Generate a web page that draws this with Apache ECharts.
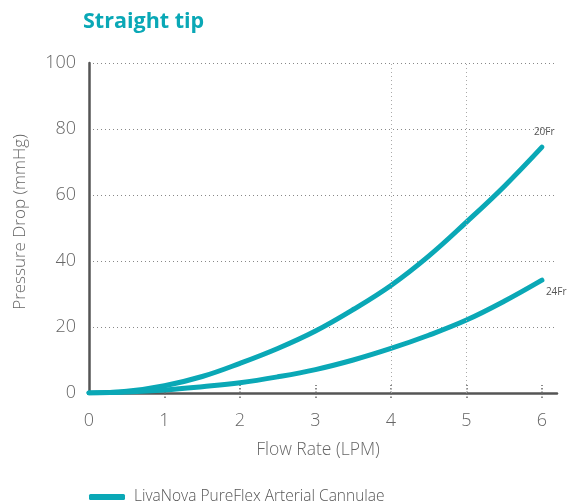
<!DOCTYPE html>
<html>
<head>
<meta charset="utf-8">
<script src="https://cdn.jsdelivr.net/npm/echarts@6/dist/echarts.min.js"></script>
<style>html,body{margin:0;padding:0;background:#fff;}#c{width:567px;height:502px;}</style>
</head>
<body>
<div id="c"></div>
<script>
var flowRates = [0, 0.5, 1, 1.5, 2, 2.5, 3, 3.5, 4, 4.5, 5, 5.5, 6];
var fr20Values = [0, 0.5, 2.2, 5, 9, 13.5, 18.8, 25.3, 32.6, 41.5, 51.8, 62.6, 74.5];
var fr24Values = [0, 0.3, 0.9, 1.9, 3.1, 4.9, 7.1, 10, 13.5, 17.5, 22.1, 27.8, 34.2];
var xTickLabels = [0, 1, 2, 3, 4, 5, 6];
var xTickMarks = [1, 2, 3, 4, 5, 6];
var xGridAt = [4, 5];
var seriesName = 'LivaNova PureFlex Arterial Cannulae';

function pairs(ys) { return flowRates.map(function (x, i) { return [x, ys[i]]; }); }

var teal = '#0aa8b6';
var font = '"Open Sans", "Noto Sans", sans-serif';
var chart = echarts.init(document.getElementById('c'));
chart.setOption({
  animation: false,
  title: {
    text: 'Straight tip', left: 78, top: 6,
    textStyle: { color: teal, fontSize: 21.5, fontWeight: 'bold', fontFamily: '"Open Sans", sans-serif' }
  },
  grid: { left: 89, right: 10, top: 63, bottom: 109 },
  legend: {
    left: 84, top: 484, icon: 'roundRect', itemWidth: 36, itemHeight: 6, itemGap: 14,
    data: [seriesName],
    textStyle: { color: '#555', fontSize: 15.5, fontWeight: 300, fontFamily: font, padding: [0, 0, 0, 4] }
  },
  xAxis: [{
    type: 'value', min: 0, max: 6.2, interval: 1,
    axisLine: { lineStyle: { color: '#555', width: 2.5 } },
    axisTick: { show: true, customValues: xTickMarks, length: 7, lineStyle: { color: '#666', type: [1.5, 2], width: 1.5 } },
    axisLabel: { customValues: xTickLabels, color: '#666', fontSize: 18, fontWeight: 300, margin: 19, fontFamily: font },
    splitLine: { show: false },
    name: 'Flow Rate (LPM)', nameLocation: 'middle', nameGap: 48,
    nameTextStyle: { color: '#666', fontSize: 17.5, fontWeight: 300, fontFamily: font, padding: [0, 10, 0, 0] }
  }, {
    type: 'value', min: 0, max: 6.2, interval: 1, position: 'bottom',
    axisLine: { show: false },
    axisTick: { show: true, inside: true, customValues: xTickMarks, length: 8, lineStyle: { color: '#666', type: [1.5, 2], width: 1.5 } },
    axisLabel: { show: false },
    splitLine: { show: false }
  }],
  yAxis: {
    type: 'value', min: 0, max: 100, interval: 20,
    axisLine: { show: true, lineStyle: { color: '#555', width: 2.5 } },
    axisTick: { show: false },
    axisLabel: { color: '#666', fontSize: 18, fontWeight: 300, margin: 13, fontFamily: font },
    splitLine: { show: true, lineStyle: { color: '#888', type: [1, 3], width: 1 } },
    name: 'Pressure Drop (mmHg)', nameLocation: 'middle', nameGap: 60,
    nameTextStyle: { color: '#666', fontSize: 17, fontWeight: 300, fontFamily: font, padding: [0, 0, 0, 12] }
  },
  series: [{
    name: seriesName, type: 'line', smooth: 0.4, showSymbol: false,
    data: pairs(fr20Values),
    itemStyle: { color: teal },
    lineStyle: { color: teal, width: 5, cap: 'round' },
    endLabel: { show: true, formatter: '20Fr', offset: [-16, -15], color: '#555', fontSize: 10, fontFamily: font },
    markLine: {
      silent: true, symbol: 'none', label: { show: false },
      lineStyle: { color: '#aaa', type: [1, 3], width: 1 },
      data: xGridAt.map(function (v) { return { xAxis: v }; })
    }
  }, {
    name: seriesName, type: 'line', smooth: 0.4, showSymbol: false,
    data: pairs(fr24Values),
    itemStyle: { color: teal },
    lineStyle: { color: teal, width: 5, cap: 'round' },
    endLabel: { show: true, formatter: '24Fr', offset: [-4, 12], color: '#555', fontSize: 10, fontFamily: font }
  }]
});
</script>
</body>
</html>
